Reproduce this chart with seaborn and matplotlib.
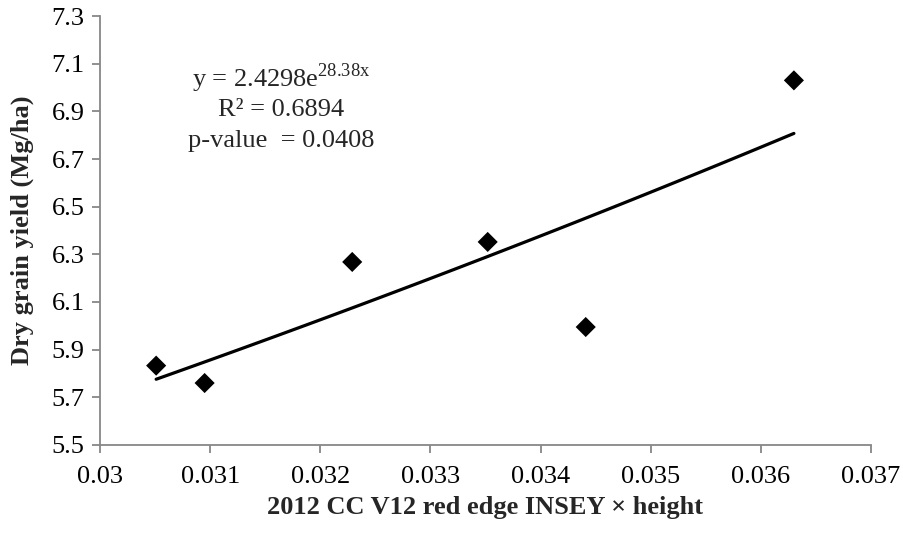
import numpy as np
import pandas as pd
import matplotlib
matplotlib.use("Agg")
import matplotlib.pyplot as plt
import seaborn as sns

# Observed values
insey_height = [0.03051, 0.03095, 0.03229, 0.03352, 0.03441, 0.03630]
grain_yield = [5.833, 5.760, 6.268, 6.352, 5.995, 7.030]

# Exponential trend y = a * exp(b * x)
coef_a = 2.4298
coef_b = 28.38
r_squared = 0.6894
p_value = 0.0408

x_ticks = [0.03, 0.031, 0.032, 0.033, 0.034, 0.035, 0.036, 0.037]
y_ticks = [5.5, 5.7, 5.9, 6.1, 6.3, 6.5, 6.7, 6.9, 7.1, 7.3]

sns.set_theme(style="white")
plt.rcParams["font.family"] = ["Liberation Serif", "DejaVu Serif"]
plt.rcParams["mathtext.fontset"] = "custom"
plt.rcParams["mathtext.rm"] = "Liberation Serif"

df = pd.DataFrame({"x": insey_height, "y": grain_yield})
trend_x = np.linspace(min(insey_height), max(insey_height), 100)
trend = pd.DataFrame({"x": trend_x, "y": coef_a * np.exp(coef_b * trend_x)})

fig = plt.figure(figsize=(9.04, 5.34), dpi=100)
ax = fig.add_axes([0.1106, 0.1667, 0.8529, 0.8033])

sns.lineplot(data=trend, x="x", y="y", ax=ax, color="black", linewidth=2.3)
sns.scatterplot(data=df, x="x", y="y", ax=ax, marker="D", s=105,
                color="black", edgecolor="none", zorder=3)

ax.set_xlim(0.03, 0.037)
ax.set_ylim(5.5, 7.3)
ax.set_xticks(x_ticks)
ax.set_xticklabels([f"{v:g}" for v in x_ticks])
ax.set_yticks(y_ticks)
ax.set_yticklabels([f"{v:.1f}" for v in y_ticks])

gray = "#878787"
for side in ["top", "right"]:
    ax.spines[side].set_visible(False)
for side in ["left", "bottom"]:
    ax.spines[side].set_color(gray)
    ax.spines[side].set_linewidth(1.3)
ax.tick_params(axis="both", which="major", direction="out", length=6,
               width=1.3, color=gray, labelsize=19, labelcolor="black",
               bottom=True, left=True, top=False, right=False)
ax.tick_params(axis="y", pad=5)
ax.tick_params(axis="x", pad=9)

ax.set_xlabel("2012 CC V12 red edge INSEY × height", fontsize=19,
              fontweight="bold", labelpad=6)
ax.set_ylabel("Dry grain yield (Mg/ha)", fontsize=19, fontweight="bold",
              labelpad=13)

eq_x = 0.235
ax.text(eq_x, 0.855, r"y = " + f"{coef_a}" + r"e$^{\mathregular{" + f"{coef_b}" + r"x}}$",
        transform=ax.transAxes, ha="center", va="center", fontsize=19)
ax.text(eq_x, 0.781, f"R² = {r_squared}", transform=ax.transAxes,
        ha="center", va="center", fontsize=19)
ax.text(eq_x, 0.709, f"p-value  = {p_value}", transform=ax.transAxes,
        ha="center", va="center", fontsize=19)

fig.savefig("out.png", dpi=100)
